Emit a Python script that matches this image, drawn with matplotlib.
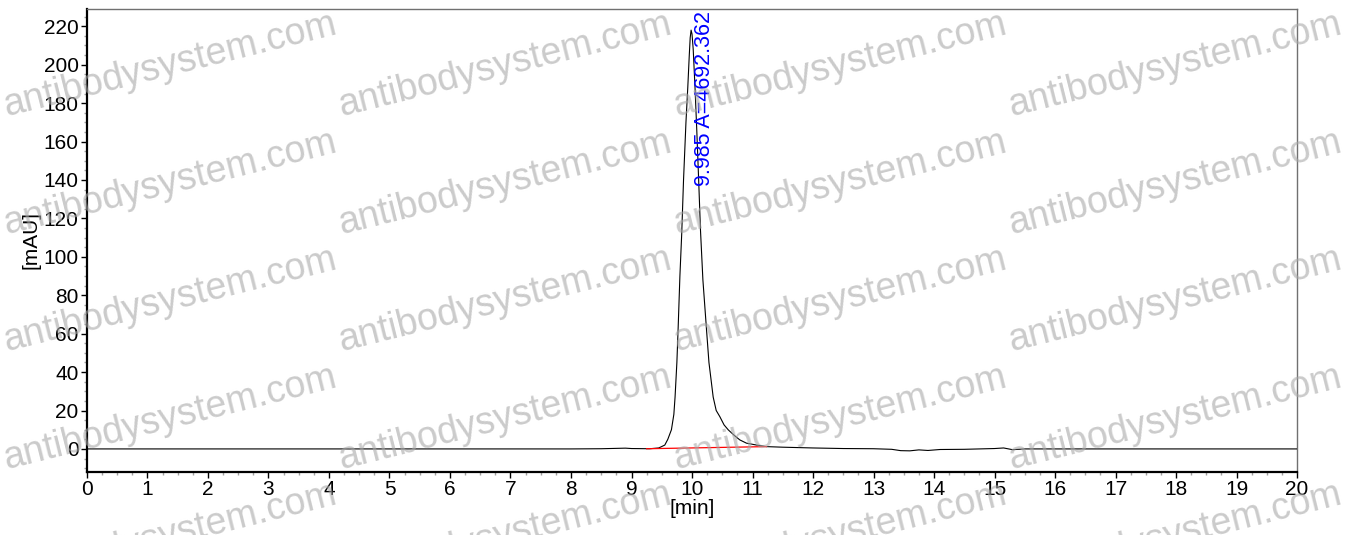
import matplotlib
matplotlib.use('Agg')
import matplotlib.pyplot as plt
from matplotlib.ticker import MultipleLocator

plt.rcParams['font.family'] = ['Liberation Sans', 'DejaVu Sans']

# chromatogram trace (time in min, signal in mAU)
time_min = [0.0, 8.0, 8.5, 8.9, 9.0, 9.3, 9.45, 9.55, 9.60, 9.66, 9.70, 9.72,
            9.75, 9.77, 9.80, 9.83, 9.86, 9.90, 9.93, 9.955, 9.97, 9.985,
            10.00, 10.02, 10.05, 10.08, 10.11, 10.14, 10.18, 10.24, 10.28,
            10.35, 10.40, 10.46, 10.53, 10.60, 10.70, 10.79, 10.90, 11.07,
            11.23, 11.5, 12.0, 12.5, 13.0, 13.3, 13.45, 13.6, 13.75, 13.9,
            14.1, 14.5, 15.0, 15.15, 15.3, 15.5, 16.0, 20.0]
signal_mau = [0.0, 0.0, 0.1, 0.4, 0.2, 0.1, 0.5, 2.0, 5.0, 10.0, 18.0, 27.0,
              45.0, 62.0, 90.0, 112.0, 140.0, 170.0, 188.0, 205.0, 214.0, 218.0,
              216.0, 208.0, 188.0, 165.0, 140.0, 114.0, 88.0, 62.0, 45.0,
              27.0, 20.0, 16.8, 12.5, 9.9, 7.0, 4.7, 3.0, 2.0,
              1.2, 0.9, 0.5, 0.2, 0.1, -0.2, -0.9, -1.0, -0.5, -0.8,
              -0.3, -0.2, 0.2, 0.5, -0.4, 0.0, 0.0, 0.0]

# integration baseline of the peak
base_time = [9.25, 11.23]
base_mau = [0.1, 1.2]

peak_rt = 9.985
peak_area = 4692.362

fig = plt.figure(figsize=(13.59, 5.35), dpi=100)
ax = fig.add_axes([0.064, 0.1178, 0.8904, 0.8654])

ax.plot(time_min, signal_mau, color='black', linewidth=0.8, zorder=3)
ax.plot(base_time, base_mau, color='red', linewidth=0.9, zorder=4)

ax.text(10.2, 137, f'{peak_rt:.3f} A={peak_area:.3f}', rotation=90,
        ha='center', va='bottom', color='blue', fontsize=15.5, zorder=5)

ax.set_xlim(0, 20)
ax.set_ylim(-12, 229)
ax.xaxis.set_major_locator(MultipleLocator(1))
ax.xaxis.set_minor_locator(MultipleLocator(0.25))
ax.yaxis.set_major_locator(MultipleLocator(20))
ax.yaxis.set_minor_locator(MultipleLocator(5))
ax.tick_params(which='major', direction='out', length=4, width=1,
               labelsize=15, pad=2, color='black')
ax.tick_params(which='minor', direction='out', length=2, width=1,
               color='#a0a0a0')

ax.spines['left'].set_linewidth(1.6)
ax.spines['bottom'].set_linewidth(1.6)
for side in ['top', 'right']:
    ax.spines[side].set_color('#707070')
    ax.spines[side].set_linewidth(1.0)

ax.set_xlabel('[min]', fontsize=15, labelpad=0)
ax.set_ylabel('[mAU]', fontsize=15, labelpad=2)

# watermark grid (bottom row is cut by the edge, as in the source)
cols = [170, 505, 840, 1175]
rows = [65, 183, 300, 418, 535]
for cx in cols:
    for cy in rows:
        fig.text(cx / 1359, 1 - cy / 535, 'antibodysystem.com', rotation=14,
                 ha='center', va='center', fontsize=27, color='#a8a8a8',
                 alpha=0.6, zorder=10)

fig.savefig('out.png', dpi=100)
